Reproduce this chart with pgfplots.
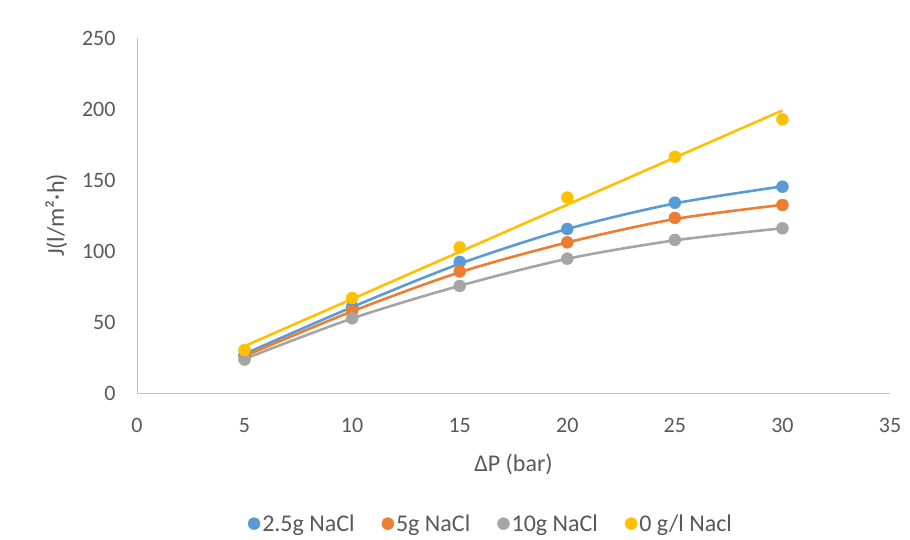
\documentclass[border=0pt]{standalone}
\usepackage{pgfplots}
\pgfplotsset{compat=1.18}
\usepackage{fontspec}
\setmainfont{Carlito}

\definecolor{txtgray}{HTML}{595959}
\definecolor{axgray}{HTML}{BFBFBF}
\definecolor{sblue}{HTML}{5B9BD5}
\definecolor{sorange}{HTML}{ED7D31}
\definecolor{sgray}{HTML}{A5A5A5}
\definecolor{syellow}{HTML}{FFC000}

\begin{document}
\begin{tikzpicture}
\path[use as bounding box, fill=white] (0,0) rectangle (910bp,540bp);
\begin{axis}[
  at={(137bp,147bp)}, anchor=south west,
  scale only axis, width=753bp, height=355bp,
  xmin=0, xmax=35, ymin=0, ymax=250,
  xtick={0,5,...,35}, ytick={0,50,...,250},
  axis x line*=bottom, axis y line*=left,
  axis line style={axgray, line width=1pt},
  x axis line style={-}, y axis line style={-},
  tick style={draw=none},
  font=\fontsize{22bp}{25bp}\selectfont,
  every tick label/.append style={text=txtgray},
  /pgf/number format/assume math mode=true,
  xticklabel style={yshift=-22bp},
  yticklabel style={xshift=-18bp},
  xlabel={ΔP (bar)}, ylabel={J(l/m²·h)},
  label style={text=txtgray, font=\fontsize{24bp}{27bp}\selectfont},
  xlabel style={yshift=-14bp},
  ylabel style={yshift=8bp},
  clip=false,
  legend columns=-1,
  legend style={draw=none, fill=none, at={(0.47,-0.368)}, anchor=center,
    font=\fontsize{24bp}{27bp}\selectfont, text=txtgray,
    /tikz/every even column/.append style={column sep=25bp}},
  legend image code/.code={\fill[#1] (0.15cm,0) circle (6bp);},
]
% fitted trend curves
\addplot[sblue, line width=2.6bp, smooth, forget plot] coordinates {(5,27.5)(10,60.5)(15,91)(20,115.5)(25,133.5)(30,145.5)};
\addplot[sorange, line width=2.6bp, smooth, forget plot] coordinates {(5,26)(10,57.5)(15,85)(20,106)(25,122.5)(30,132.5)};
\addplot[sgray, line width=2.6bp, smooth, forget plot] coordinates {(5,24)(10,52.5)(15,75.5)(20,94.5)(25,107.5)(30,116)};
\addplot[syellow, line width=2.6bp, forget plot] coordinates {(5,33)(30,199)};
% measured fluxes
\addplot[only marks, mark=*, mark size=6bp, sblue, mark options={fill=sblue, draw=sblue}] coordinates {(5,26.8)(10,60.6)(15,92.3)(20,115.5)(25,134)(30,145.3)};
\addlegendentry{2.5g NaCl}
\addplot[only marks, mark=*, mark size=6bp, sorange, mark options={fill=sorange, draw=sorange}] coordinates {(5,26)(10,57.7)(15,85.6)(20,106.1)(25,123.3)(30,132.4)};
\addlegendentry{5g NaCl}
\addplot[only marks, mark=*, mark size=6bp, sgray, mark options={fill=sgray, draw=sgray}] coordinates {(5,23.5)(10,52.6)(15,75.4)(20,94.6)(25,107.8)(30,116)};
\addlegendentry{10g NaCl}
\addplot[only marks, mark=*, mark size=6bp, syellow, mark options={fill=syellow, draw=syellow}] coordinates {(5,30.3)(10,66.9)(15,102.6)(20,137.6)(25,166.4)(30,192.7)};
\addlegendentry{0 g/l Nacl}
\end{axis}
\end{tikzpicture}
\end{document}
